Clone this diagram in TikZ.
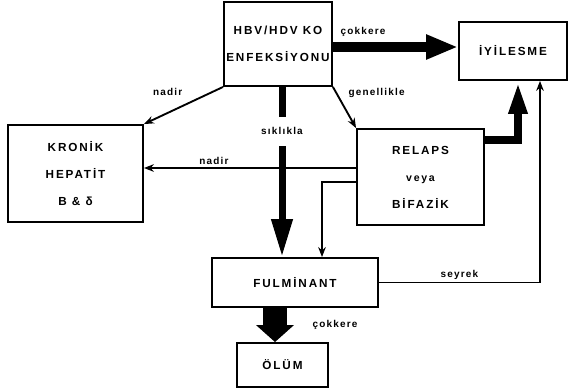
\documentclass[tikz,border=0pt]{standalone}
\usepackage{fontspec}
\setmainfont{Liberation Sans}
\usetikzlibrary{positioning, arrows.meta, calc}

\begin{document}
\begin{tikzpicture}[x=0.03cm, y=-0.03cm,
        every node/.style={align=center},
        kutu/.style={draw, line width=1.6pt, inner sep=0pt,
            font=\fontsize{10}{23}\selectfont\bfseries\addfontfeature{LetterSpace=16}},
        etiket/.style={font=\fontsize{8.5}{9}\selectfont\bfseries\addfontfeature{LetterSpace=12}, inner sep=1pt},
        ince/.style={-{Stealth[length=8.5pt, width=6.5pt]}, line width=1.6pt},
        kalin/.style n args={3}{line width=#1, -{Triangle[width=#2, length=#3]}}]

        \useasboundingbox (0,0) rectangle (578,391);

        % kutular
        \node[kutu, minimum width=3.24cm, minimum height=2.52cm] (hbv)    at (278,44)    {HBV/HDV KO\\ENFEKSİYONU};
        \node[kutu, minimum width=3.24cm, minimum height=1.74cm] (iyi)    at (513,51)    {İYİLESME};
        \node[kutu, minimum width=4.05cm, minimum height=2.91cm] (kronik) at (75.5,173.5) {KRONİK\\HEPATİT\\B \& δ};
        \node[kutu, minimum width=3.81cm, minimum height=2.88cm] (relaps) at (420.5,177) {RELAPS\\{\fontsize{9}{9}\selectfont veya}\\BİFAZİK};
        \node[kutu, minimum width=4.98cm, minimum height=1.47cm] (fulm)   at (295,282.5) {FULMİNANT};
        \node[kutu, minimum width=2.73cm, minimum height=1.32cm] (olum)   at (282.5,365) {ÖLÜM};

        % ince oklar
        \draw[ince] (hbv.south west) -- (kronik.north east)
            node[etiket, pos=0.7, above=0.45cm] {nadir};
        \draw[ince] (hbv.south east) -- (relaps.north west)
            node[etiket, pos=0.15, right=0.3cm] {genellikle};
        \draw[ince] ([yshift=0.27cm]relaps.west) -- ([yshift=0.27cm]relaps.west -| kronik.east)
            node[etiket, pos=0.67, above=1pt] {nadir};
        \draw[ince] ([yshift=-0.15cm]relaps.west) -| ([xshift=0.81cm]fulm.north);
        \draw[ince] (fulm.east) -| ([xshift=0.81cm]iyi.south)
            node[etiket, pos=0.25, above=1pt] {seyrek};

        % kalin oklar
        \draw[kalin={0.27cm}{0.69cm}{0.96cm}] ([yshift=-0.09cm]hbv.east) -- ([yshift=-0.09cm]hbv.east -| iyi.west)
            node[etiket, pos=0.24, above=4pt] {çokkere};
        \draw[kalin={0.21cm}{0.6cm}{1.14cm}] ([xshift=0.12cm]hbv.south) -- ([xshift=0.12cm]hbv.south |- fulm.north)
            node[etiket, fill=white, inner ysep=0.33cm, pos=0.26] {sıklıkla};
        \draw[kalin={0.25cm}{0.51cm}{0.99cm}] ([yshift=1.11cm]relaps.east) -| ([xshift=0.15cm]iyi.south);
        \draw[kalin={0.69cm}{1.11cm}{0.51cm}] ([xshift=-0.6cm]fulm.south) -- ([xshift=-0.6cm]fulm.south |- olum.north)
            node[etiket, midway, right=0.75cm] {çokkere};
    \end{tikzpicture}
\end{document}
